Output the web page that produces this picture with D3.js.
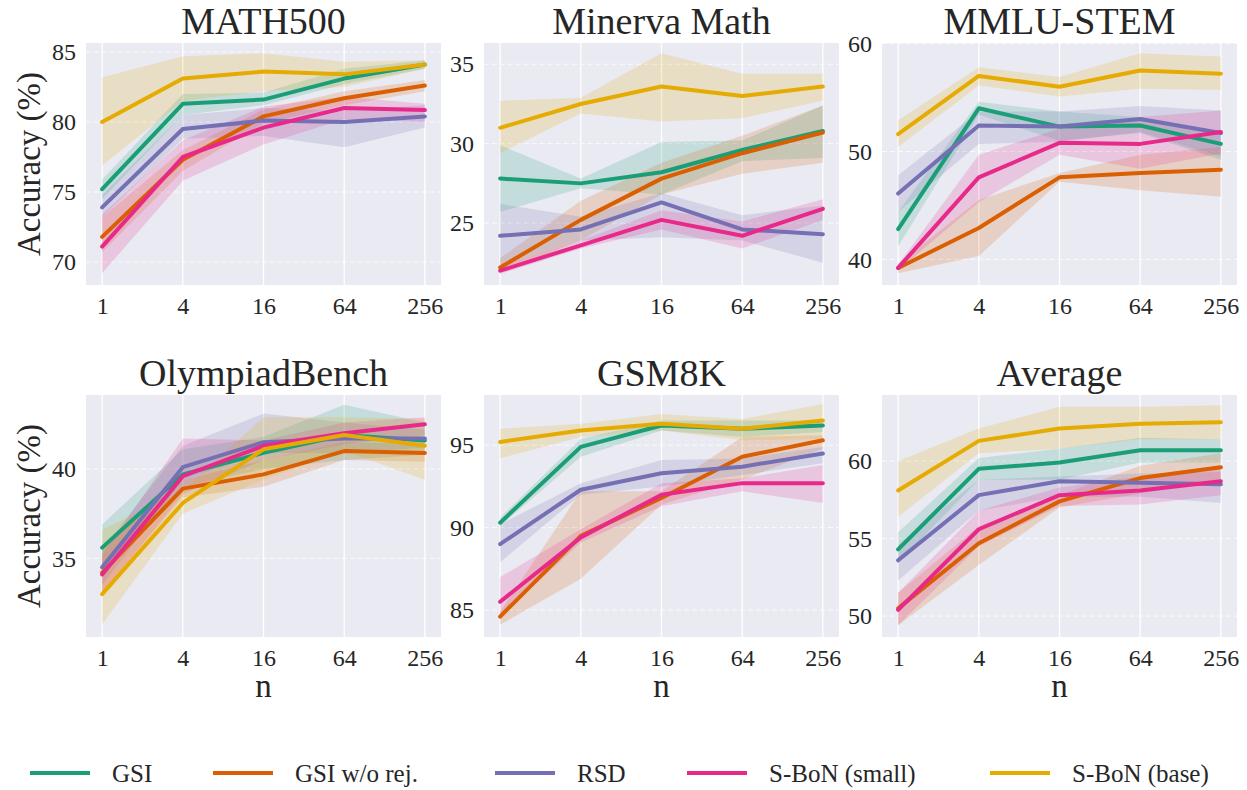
<!DOCTYPE html>
<html>
<head>
<meta charset="utf-8">
<script src="https://cdn.jsdelivr.net/npm/d3@7"></script>
<style>
  body { margin: 0; background: #fff; }
</style>
</head>
<body>
<svg id="chart" width="1247" height="790" font-family="Liberation Serif"></svg>
<script>
// Methods, colours and sample counts
const methods = ["GSI", "GSI w/o rej.", "RSD", "S-BoN (small)", "S-BoN (base)"];
const colors = ["#1b9e77", "#d95f02", "#7570b3", "#e7298a", "#e6ab02"];
const nValues = ["1", "4", "16", "64", "256"];

// Each array holds one row per method (same order as `methods`), one value per n.
const math500Mean = [
  [75.2, 81.3, 81.6, 83.1, 84.1],
  [71.8, 77.3, 80.4, 81.7, 82.6],
  [73.9, 79.5, 80.1, 80.0, 80.4],
  [71.1, 77.5, 79.6, 81.0, 80.85],
  [80.0, 83.1, 83.6, 83.4, 84.1]
];
const math500Lo = [
  [74.5, 80.5, 81.2, 82.7, 83.8],
  [70.7, 76.5, 79.9, 81.2, 82.2],
  [73.2, 78.8, 79.0, 78.2, 79.6],
  [69.2, 75.8, 78.4, 80.2, 80.0],
  [76.9, 81.5, 82.2, 82.5, 83.8]
];
const math500Hi = [
  [75.9, 82.0, 82.1, 83.8, 84.4],
  [73.2, 78.0, 80.9, 82.2, 83.0],
  [74.8, 80.5, 81.0, 80.8, 81.2],
  [73.4, 78.7, 81.1, 81.8, 81.3],
  [83.2, 84.7, 84.9, 84.3, 84.4]
];
const math500Ticks = [70, 75, 80, 85];

const minervaMean = [
  [27.8, 27.5, 28.2, 29.6, 30.8],
  [22.2, 25.2, 27.8, 29.4, 30.7],
  [24.2, 24.6, 26.3, 24.6, 24.3],
  [22.0, 23.6, 25.2, 24.2, 25.9],
  [31.0, 32.5, 33.6, 33.0, 33.6]
];
const minervaLo = [
  [25.7, 27.2, 26.8, 28.9, 29.1],
  [21.9, 23.9, 26.8, 28.1, 28.8],
  [22.3, 23.9, 24.1, 23.9, 22.5],
  [21.8, 23.4, 24.6, 23.4, 25.2],
  [29.4, 31.9, 31.4, 31.6, 32.7]
];
const minervaHi = [
  [29.9, 27.8, 30.1, 30.2, 32.4],
  [22.8, 26.4, 28.8, 30.5, 32.4],
  [26.2, 25.4, 26.9, 25.5, 26.1],
  [22.3, 23.9, 25.8, 25.1, 26.5],
  [32.7, 32.9, 35.7, 34.4, 34.4]
];
const minervaTicks = [25, 30, 35];

const mmluMean = [
  [42.8, 54.0, 52.3, 52.4, 50.7],
  [39.2, 42.9, 47.6, 48.0, 48.3],
  [46.1, 52.4, 52.3, 53.0, 51.7],
  [39.2, 47.6, 50.8, 50.7, 51.8],
  [51.6, 57.0, 56.0, 57.5, 57.2]
];
const mmluLo = [
  [41.2, 53.4, 51.0, 51.7, 49.2],
  [38.7, 40.3, 47.2, 46.4, 45.8],
  [44.4, 50.7, 50.9, 51.8, 49.5],
  [39.0, 45.3, 49.7, 48.4, 49.8],
  [50.4, 56.1, 55.1, 55.8, 55.7]
];
const mmluHi = [
  [44.4, 54.6, 53.7, 53.2, 51.7],
  [39.6, 45.5, 48.0, 49.7, 50.4],
  [47.8, 53.7, 53.7, 54.2, 53.8],
  [39.5, 49.7, 52.1, 53.2, 53.8],
  [52.9, 57.8, 56.9, 59.1, 58.8]
];
const mmluTicks = [40, 50, 60];

const olympiadMean = [
  [35.6, 39.7, 40.9, 41.9, 41.6],
  [34.2, 38.9, 39.7, 41.0, 40.9],
  [34.5, 40.1, 41.5, 41.7, 41.7],
  [34.1, 39.6, 41.3, 42.0, 42.5],
  [33.0, 38.1, 41.1, 41.9, 41.3]
];
const olympiadLo = [
  [34.4, 39.0, 40.0, 40.5, 40.8],
  [33.0, 38.4, 39.0, 40.5, 40.4],
  [33.5, 39.4, 40.9, 40.9, 41.2],
  [33.0, 38.6, 40.5, 41.4, 41.9],
  [31.3, 37.5, 39.4, 41.0, 39.4]
];
const olympiadHi = [
  [36.9, 41.1, 41.8, 43.6, 42.6],
  [35.6, 39.4, 40.5, 41.5, 41.4],
  [35.5, 41.3, 43.1, 42.6, 42.2],
  [35.2, 41.7, 41.6, 42.6, 42.9],
  [36.6, 38.8, 42.9, 42.9, 42.8]
];
const olympiadTicks = [35, 40];

const gsm8kMean = [
  [90.3, 94.9, 96.2, 96.0, 96.2],
  [84.6, 89.5, 91.8, 94.3, 95.3],
  [89.0, 92.3, 93.3, 93.7, 94.5],
  [85.5, 89.4, 92.0, 92.7, 92.7],
  [95.2, 95.9, 96.3, 96.0, 96.5]
];
const gsm8kLo = [
  [90.1, 94.3, 95.9, 95.5, 95.8],
  [84.1, 86.9, 91.4, 92.9, 94.8],
  [87.9, 92.0, 92.5, 93.2, 93.9],
  [84.6, 89.1, 91.3, 92.2, 91.5],
  [94.2, 95.5, 95.9, 95.3, 95.4]
];
const gsm8kHi = [
  [90.6, 95.4, 96.5, 96.5, 96.5],
  [84.9, 92.2, 92.2, 95.5, 95.6],
  [90.2, 92.7, 94.1, 94.2, 94.9],
  [87.0, 89.9, 92.7, 93.0, 93.8],
  [96.0, 96.3, 96.9, 96.6, 97.5]
];
const gsm8kTicks = [85, 90, 95];

const averageMean = [
  [54.3, 59.5, 59.9, 60.7, 60.7],
  [50.5, 54.7, 57.4, 58.9, 59.6],
  [53.6, 57.8, 58.7, 58.6, 58.5],
  [50.4, 55.6, 57.8, 58.1, 58.7],
  [58.1, 61.3, 62.1, 62.4, 62.5]
];
const averageLo = [
  [53.4, 58.8, 58.8, 59.9, 59.9],
  [49.4, 53.3, 57.0, 57.9, 58.8],
  [52.3, 56.8, 57.7, 57.7, 57.3],
  [49.4, 54.5, 57.1, 57.2, 57.8],
  [56.4, 60.5, 60.8, 61.4, 61.4]
];
const averageHi = [
  [55.4, 60.2, 60.8, 61.5, 61.4],
  [51.5, 55.8, 57.8, 59.7, 60.5],
  [54.6, 58.8, 59.0, 59.2, 59.3],
  [51.5, 56.8, 58.3, 59.0, 59.7],
  [60.0, 62.1, 63.5, 63.5, 63.6]
];
const averageTicks = [50, 55, 60];

// Panel definitions (grid position and y range per benchmark)
const panels = [
  { title: "MATH500", mean: math500Mean, lo: math500Lo, hi: math500Hi, ticks: math500Ticks, yRange: [68.36, 85.64], col: 0, row: 0 },
  { title: "Minerva Math", mean: minervaMean, lo: minervaLo, hi: minervaHi, ticks: minervaTicks, yRange: [21.1, 36.34], col: 1, row: 0 },
  { title: "MMLU-STEM", mean: mmluMean, lo: mmluLo, hi: mmluHi, ticks: mmluTicks, yRange: [37.62, 60.05], col: 2, row: 0 },
  { title: "OlympiadBench", mean: olympiadMean, lo: olympiadLo, hi: olympiadHi, ticks: olympiadTicks, yRange: [30.6, 44.14], col: 0, row: 1 },
  { title: "GSM8K", mean: gsm8kMean, lo: gsm8kLo, hi: gsm8kHi, ticks: gsm8kTicks, yRange: [83.36, 98.05], col: 1, row: 1 },
  { title: "Average", mean: averageMean, lo: averageLo, hi: averageHi, ticks: averageTicks, yRange: [48.65, 64.26], col: 2, row: 1 }
];

const INK = "#262626";
const colX = [86, 484, 882];
const rowY = [43, 395];
const pw = 355, ph = 242;

const svg = d3.select("#chart");

const x = d3.scalePoint().domain(nValues).range([0, pw]).padding(0.2);

// serif text: family set both as attribute and as inline style
function styleText(sel, size) {
  return sel
    .attr("font-family", "Liberation Serif")
    .attr("font-size", size)
    .attr("fill", INK)
    .style("font-family", "\"Liberation Serif\", \"Times New Roman\", Tinos, serif");
}

panels.forEach(p => {
  const g = svg.append("g").attr("transform", `translate(${colX[p.col]},${rowY[p.row]})`);
  const y = d3.scaleLinear().domain(p.yRange).range([ph, 0]);

  // background
  g.append("rect").attr("width", pw).attr("height", ph).attr("fill", "#eaeaf2");

  // grid: solid verticals, dashed horizontals
  g.append("g").selectAll("line").data(nValues).join("line")
    .attr("x1", d => x(d)).attr("x2", d => x(d))
    .attr("y1", 0).attr("y2", ph)
    .attr("stroke", "#fff").attr("stroke-width", 1.3);
  g.append("g").selectAll("line").data(p.ticks).join("line")
    .attr("x1", 0).attr("x2", pw)
    .attr("y1", d => y(d)).attr("y2", d => y(d))
    .attr("stroke", "#fff").attr("stroke-width", 1).attr("stroke-opacity", 0.8)
    .attr("stroke-dasharray", "5,3");

  const area = d3.area()
    .x((d, i) => x(nValues[i]))
    .y0(d => y(d[0]))
    .y1(d => y(d[1]));
  const line = d3.line()
    .x((d, i) => x(nValues[i]))
    .y(d => y(d));

  // confidence bands
  methods.forEach((m, k) => {
    const band = p.lo[k].map((v, i) => [v, p.hi[k][i]]);
    g.append("path").datum(band)
      .attr("d", area)
      .attr("fill", colors[k]).attr("fill-opacity", 0.18);
  });
  // mean lines
  methods.forEach((m, k) => {
    g.append("path").datum(p.mean[k])
      .attr("d", line)
      .attr("fill", "none")
      .attr("stroke", colors[k])
      .attr("stroke-width", 4)
      .attr("stroke-linejoin", "round")
      .attr("stroke-linecap", "round");
  });

  // axes
  const xAxis = g.append("g").attr("transform", `translate(0,${ph})`)
    .call(d3.axisBottom(x).tickSize(0).tickPadding(12));
  xAxis.attr("font-family", "Liberation Serif").attr("font-size", 24);
  xAxis.select(".domain").remove();
  styleText(xAxis.selectAll("text"), 24);

  const yAxis = g.append("g")
    .call(d3.axisLeft(y).tickValues(p.ticks).tickSize(0).tickPadding(10).tickFormat(d3.format("d")));
  yAxis.attr("font-family", "Liberation Serif").attr("font-size", 24);
  yAxis.select(".domain").remove();
  styleText(yAxis.selectAll("text"), 24);

  // title
  styleText(g.append("text")
    .attr("x", pw / 2).attr("y", -9)
    .attr("text-anchor", "middle")
    .text(p.title), 38);

  if (p.col === 0) {
    styleText(g.append("text")
      .attr("transform", `translate(${40 - colX[0]},${ph / 2}) rotate(-90)`)
      .attr("text-anchor", "middle")
      .text("Accuracy (%)"), 33);
  }
  if (p.row === 1) {
    styleText(g.append("text")
      .attr("x", pw / 2).attr("y", ph + 60)
      .attr("text-anchor", "middle")
      .text("n"), 33);
  }
});

// legend
const legendX = [30, 213, 495, 687, 990];
const legend = svg.append("g").attr("transform", "translate(0,773)");
methods.forEach((m, k) => {
  const item = legend.append("g").attr("transform", `translate(${legendX[k]},0)`);
  item.append("line").attr("x1", 0).attr("x2", 60).attr("y1", 0).attr("y2", 0)
    .attr("stroke", colors[k]).attr("stroke-width", 4);
  styleText(item.append("text").attr("x", 82).attr("y", 0).attr("dy", "0.35em").text(m), 25);
});
</script>
</body>
</html>
